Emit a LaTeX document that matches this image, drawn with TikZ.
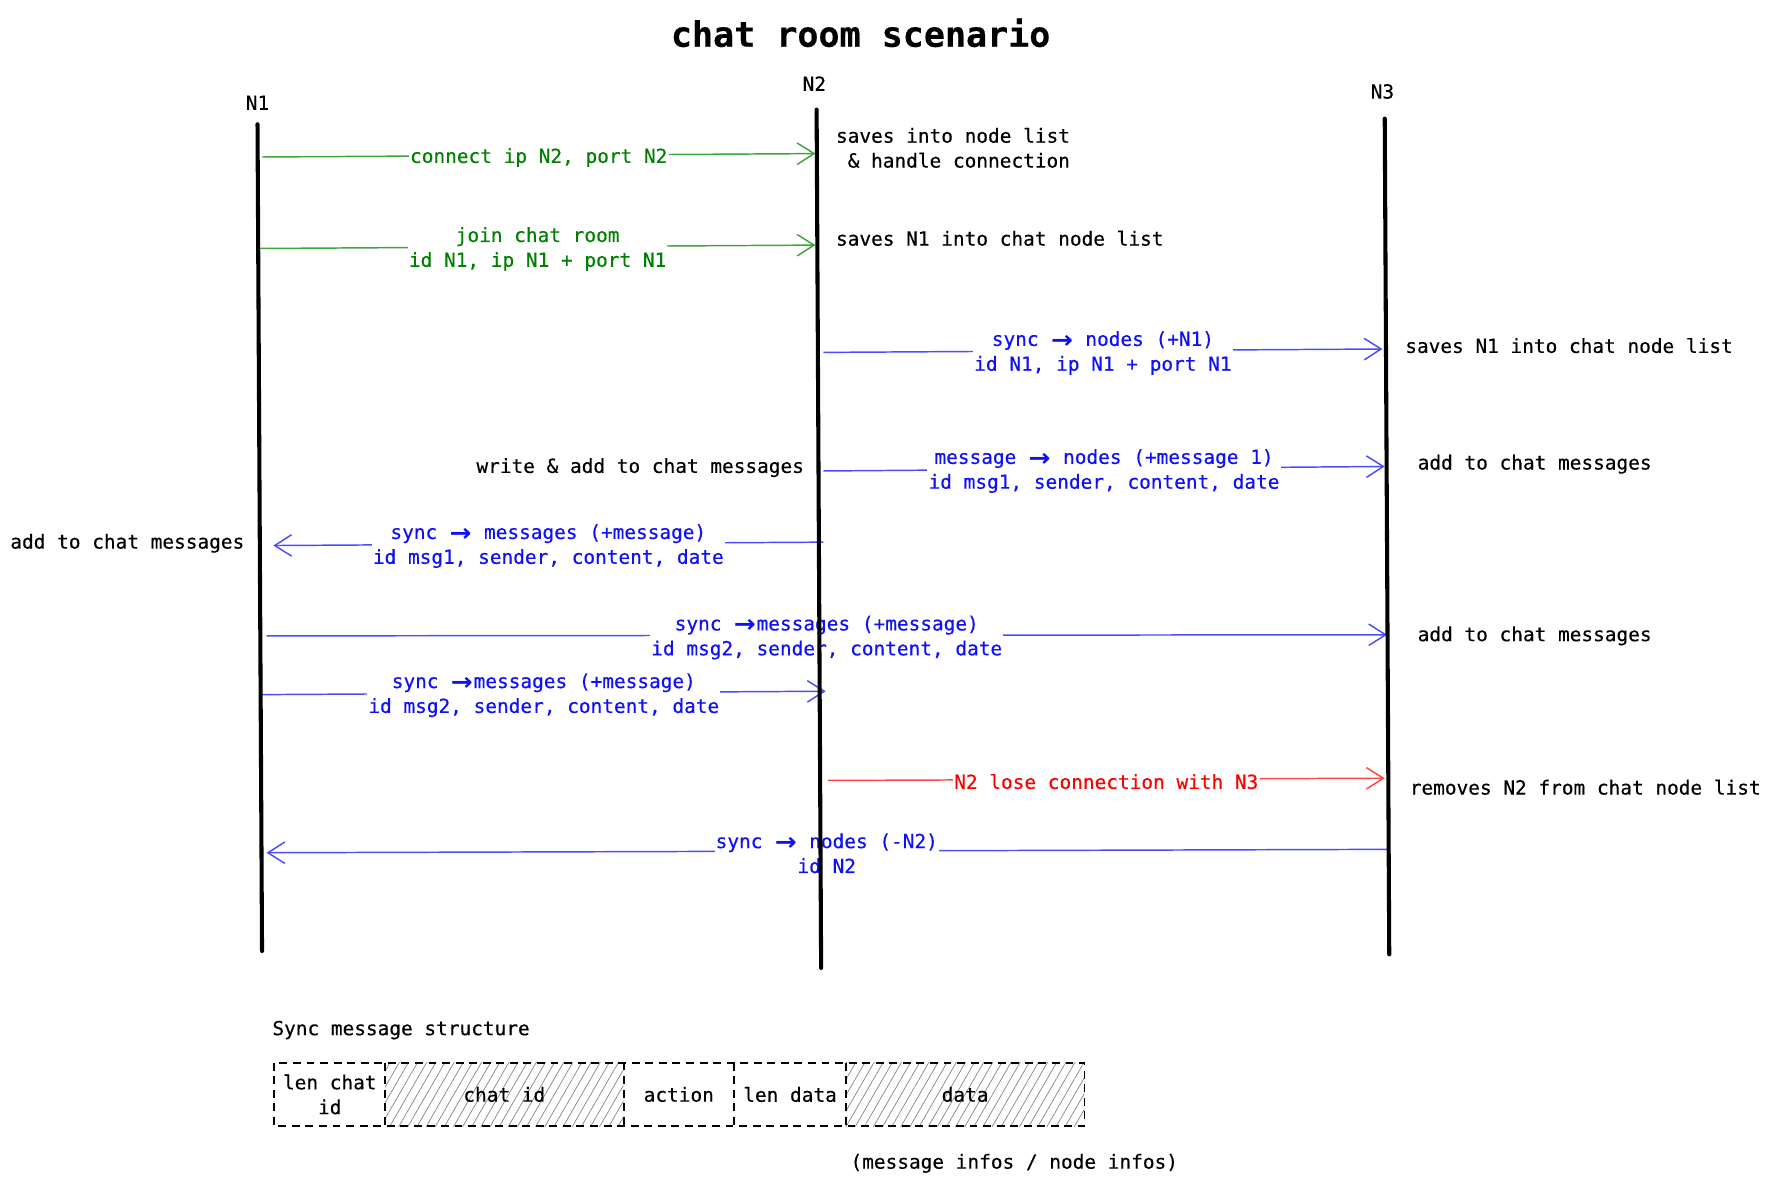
\documentclass[tikz,border=0pt]{standalone}
\usepackage{fontspec}
\newfontfamily\mono[FakeBold=0.35]{DejaVu Sans Mono}
\newfontfamily\arrfont{DejaVu Sans}
\newcommand\rarr{\makebox[20.7pt]{\raisebox{-2.2pt}{\scalebox{1.35}[1.25]{\arrfont\bfseries →}}}}
\usetikzlibrary{arrows.meta,patterns.meta}
\definecolor{gtext}{RGB}{0,128,0}
\definecolor{gline}{RGB}{60,165,60}
\definecolor{btext}{RGB}{15,15,250}
\definecolor{bline}{RGB}{75,75,255}
\definecolor{rtext}{RGB}{250,0,0}
\definecolor{rline}{RGB}{255,70,70}
\begin{document}
\begin{tikzpicture}[x=1pt,y=-1pt,
  txt/.style={font=\mono\fontsize{17.2}{22}\selectfont, inner sep=0pt},
  lifeline/.style={line width=3.6pt, line cap=round},
  msg/.style={line width=1.3pt, -{Straight Barb[length=15pt,width=19pt,line width=1.3pt]}},
  gmsg/.style={msg, draw=gline},
  bmsg/.style={msg, draw=bline},
  rmsg/.style={msg, draw=rline},
  lbl/.style={txt, fill=white, align=center, inner xsep=1pt, inner ysep=1pt, midway, yshift=-2pt},
  glbl/.style={lbl, text=gtext},
  blbl/.style={lbl, text=btext},
  rlbl/.style={lbl, text=rtext},
  cellbox/.style={txt, minimum height=56pt, align=center},
  dashline/.style={dash pattern=on 7pt off 5pt, line width=1.6pt},
  hatch/.style={pattern={Lines[angle=60,distance=7pt,line width=0.6pt]}, pattern color=gray},
]
\useasboundingbox (0,0) rectangle (1568,1049);

% title
\node (title) [font=\mono\bfseries\fontsize{31}{36}\selectfont, inner sep=0pt] at (762,29) {chat room scenario};

% lifeline labels
\node (n1) [txt] at (228,91) {N1};
\node (n2) [txt] at (721,74) {N2};
\node (n3) [txt] at (1224,81) {N3};

% lifeline ends
\coordinate (l1t) at (228,110); \coordinate (l1b) at (232,842);
\coordinate (l2t) at (723,97);  \coordinate (l2b) at (727,857);
\coordinate (l3t) at (1226,105); \coordinate (l3b) at (1230,845);

% message endpoints
\coordinate (m1s) at (232,139);  \coordinate (m1e) at (722,136);
\coordinate (m2s) at (230,220);  \coordinate (m2e) at (722,217);
\coordinate (m3s) at (729,312);  \coordinate (m3e) at (1224,309);
\coordinate (m4s) at (729,417);  \coordinate (m4e) at (1226,413);
\coordinate (m5s) at (729,480);  \coordinate (m5e) at (242,483);
\coordinate (m6s) at (236,563);  \coordinate (m6e) at (1228,562);
\coordinate (m7s) at (232,615);  \coordinate (m7e) at (731,612);
\coordinate (m8s) at (733,691);  \coordinate (m8e) at (1226,689);
\coordinate (m9s) at (1228,752); \coordinate (m9e) at (236,755);

% messages
\draw[gmsg] (m1s) -- node[glbl] (t1) {connect ip N2, port N2} (m1e);
\draw[gmsg] (m2s) -- node[glbl] (t2) {join chat room\\id N1, ip N1 + port N1} (m2e);
\draw[bmsg] (m3s) -- node[blbl] (t3) {sync \rarr{} nodes (+N1)\\id N1, ip N1 + port N1} (m3e);
\draw[bmsg] (m4s) -- node[blbl] (t4) {message \rarr{} nodes (+message 1)\\id msg1, sender, content, date} (m4e);
\draw[bmsg] (m5s) -- node[blbl] (t5) {sync \rarr{} messages (+message)\\id msg1, sender, content, date} (m5e);
\draw[bmsg] (m6s) -- node[blbl] (t6) {sync \rarr messages (+message)\\id msg2, sender, content, date} (m6e);
\draw[bmsg] (m7s) -- node[blbl] (t7) {sync \rarr messages (+message)\\id msg2, sender, content, date} (m7e);
\draw[rmsg] (m8s) -- node[rlbl] (t8) {N2 lose connection with N3} (m8e);
\draw[bmsg] (m9s) -- node[blbl] (t9) {sync \rarr{} nodes (-N2)\\id N2} (m9e);

% lifelines on top
\draw[lifeline] (l1t) -- (l1b);
\draw[lifeline] (l2t) -- (l2b);
\draw[lifeline] (l3t) -- (l3b);

% side notes
\node (s1) [txt, anchor=north west, align=left] at (740,113) {saves into node list\\\ \& handle connection};
\node (s2) [txt, anchor=west] at (740,211) {saves N1 into chat node list};
\node (s3) [txt, anchor=west] at (1244,306) {saves N1 into chat node list};
\node (s4) [txt, anchor=east] at (712,414) {write \& add to chat messages};
\node (s5) [txt, anchor=west] at (1255,411) {add to chat messages};
\node (s6) [txt, anchor=west] at (9,481) {add to chat messages};
\node (s7) [txt, anchor=west] at (1255,563) {add to chat messages};
\node (s8) [txt, anchor=west] at (1248,697) {removes N2 from chat node list};

% structure
\node (st) [txt, anchor=west] at (241,912) {Sync message structure};
\node (c1) [cellbox, minimum width=98pt] at (292,969) {len chat\\id};
\node (c2) [cellbox, hatch, minimum width=211pt] at (446.5,969) {chat id};
\node (c3) [cellbox, minimum width=98pt] at (601,969) {action};
\node (c4) [cellbox, minimum width=99pt] at (699.5,969) {len data};
\node (c5) [cellbox, hatch, minimum width=211pt] at (854.5,969) {data};
\draw[dashline] (c1.north west) rectangle (c5.south east);
\draw[dashline] (c1.north east) -- (c1.south east);
\draw[dashline] (c2.north east) -- (c2.south east);
\draw[dashline] (c3.north east) -- (c3.south east);
\draw[dashline] (c4.north east) -- (c4.south east);
\node (inf) [txt] at (898,1030) {(message infos / node infos)};
\end{tikzpicture}
\end{document}
